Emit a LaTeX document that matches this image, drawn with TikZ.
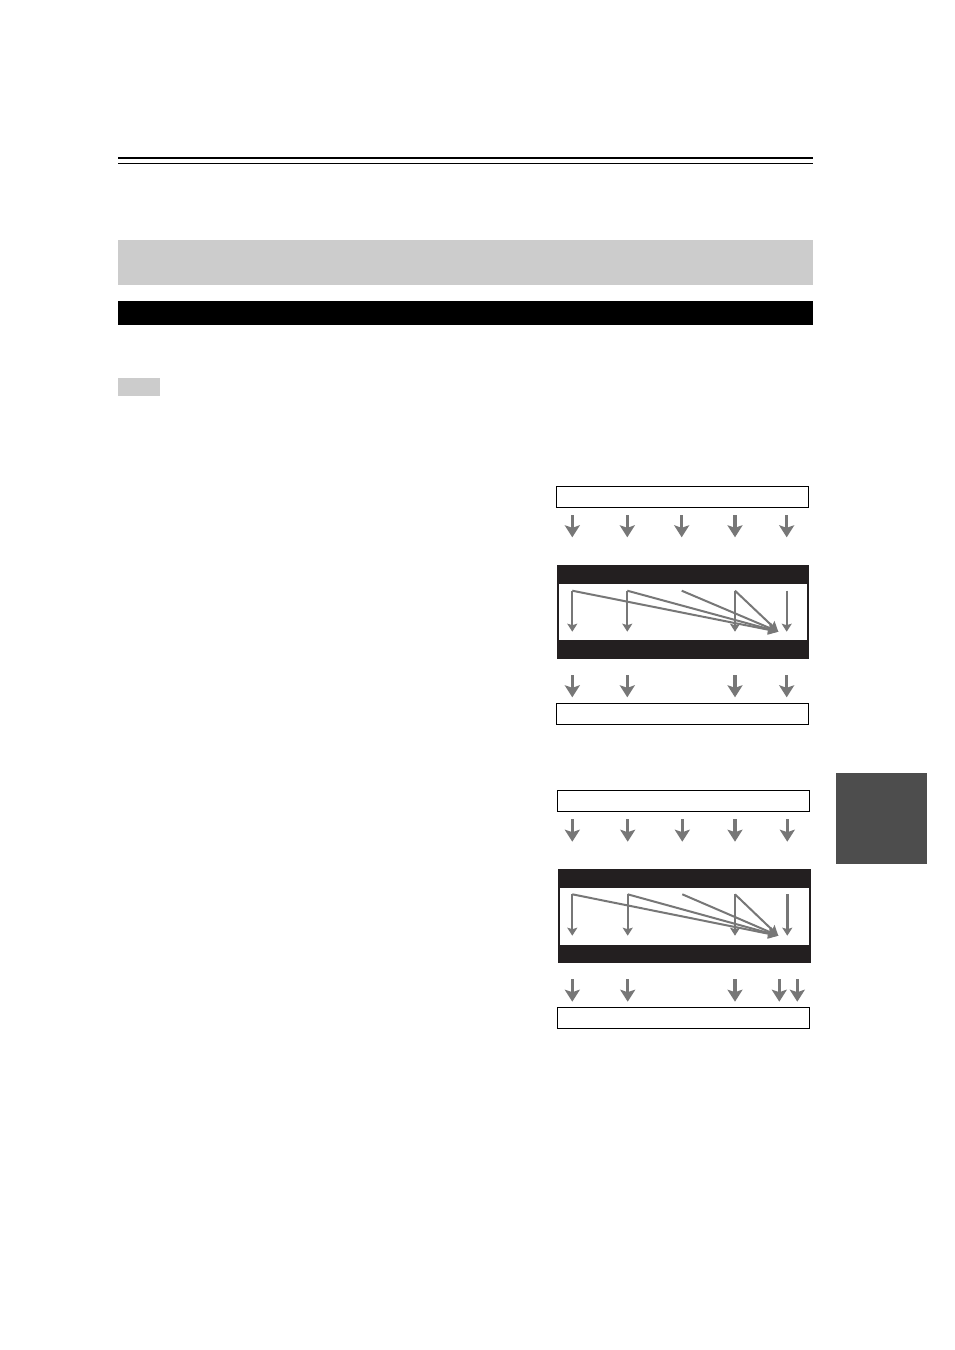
\documentclass[tikz,border=0pt]{standalone}
\usetikzlibrary{arrows.meta}
\definecolor{arrgray}{HTML}{777777}
\definecolor{panelblack}{HTML}{231F20}
\definecolor{bandgray}{HTML}{CCCCCC}
\definecolor{tabgray}{HTML}{4D4D4D}
\tikzset{
  bigarrow/.style={draw=arrgray, line width=3.3pt, -{Stealth[length=12pt,width=15pt,inset=2.5pt]}},
  thinarrow/.style={draw=arrgray, line width=1.7pt, -{Stealth[length=8pt,width=10pt,inset=1.5pt]}},
  diagline/.style={draw=arrgray, line width=2pt, -{Stealth[length=10pt,width=10pt,inset=1.5pt]}},
  outbox/.style={draw=black, line width=0.9pt, fill=white},
}
\begin{document}
\begin{tikzpicture}[x=1pt,y=-1pt]
\useasboundingbox (0,0) rectangle (954,1350);
\fill[white] (0,0) rectangle (954,1350);
% header rules
\draw[line width=2pt] (118,157.8) coordinate (r1a) -- (813,157.8) coordinate (r1b);
\draw[line width=1pt] (118,163) coordinate (r2a) -- (813,163) coordinate (r2b);
% bands
\fill[bandgray] (118,240) rectangle (813,285);
\fill[black] (118,301) rectangle (813,325);
\fill[bandgray] (118,378) rectangle (159.5,396);
% side tab
\fill[tabgray] (836,772.7) rectangle (927,863.7);

% ===== Diagram 1 =====
\draw[outbox] (556,486) rectangle (808.7,507.3);
\foreach \x in {572.3,627.3,681.7,735,786.7}
  \draw[bigarrow] (\x,515) -- (\x,537.3);
\fill[panelblack] (556.7,565) rectangle (809.3,659);
\fill[white] (558.7,584) rectangle (807.3,640);
\coordinate (c1) at (778.3,631.7);
\foreach \x in {572.3,627.3,735}
  \draw[thinarrow] (\x,590.7) -- (\x,631.7);
\draw[thinarrow] (786.7,590.7) -- (786.7,631.7);
\foreach \x in {572.3,627.3,681.7,735}
  \draw[diagline] (\x,590.7) -- (c1);
\foreach \x in {572.3,627.3,735,786.7}
  \draw[bigarrow] (\x,675) -- (\x,697.3);
\draw[outbox] (556,703.3) rectangle (808.7,724.3);

% ===== Diagram 2 =====
\draw[outbox] (557.3,790) rectangle (809.3,811.7);
\foreach \x in {572.3,627.7,682.3,735,787.3}
  \draw[bigarrow] (\x,819) -- (\x,841.7);
\fill[panelblack] (558.3,869.3) rectangle (810.7,962.7);
\fill[white] (560.3,887.7) rectangle (808.7,945);
\coordinate (c2) at (778.3,935.7);
\foreach \x in {572.3,627.7,735}
  \draw[thinarrow] (\x,894.3) -- (\x,935.7);
\draw[thinarrow, line width=2.6pt] (787.3,894.3) -- (787.3,935.7);
\foreach \x in {572.3,627.7,682.3,735}
  \draw[diagline] (\x,894.3) -- (c2);
\foreach \x in {572.3,627.7,735,779.3,797.3}
  \draw[bigarrow] (\x,979) -- (\x,1001.7);
\draw[outbox] (557.3,1007.7) rectangle (809.3,1028.3);
\end{tikzpicture}
\end{document}
